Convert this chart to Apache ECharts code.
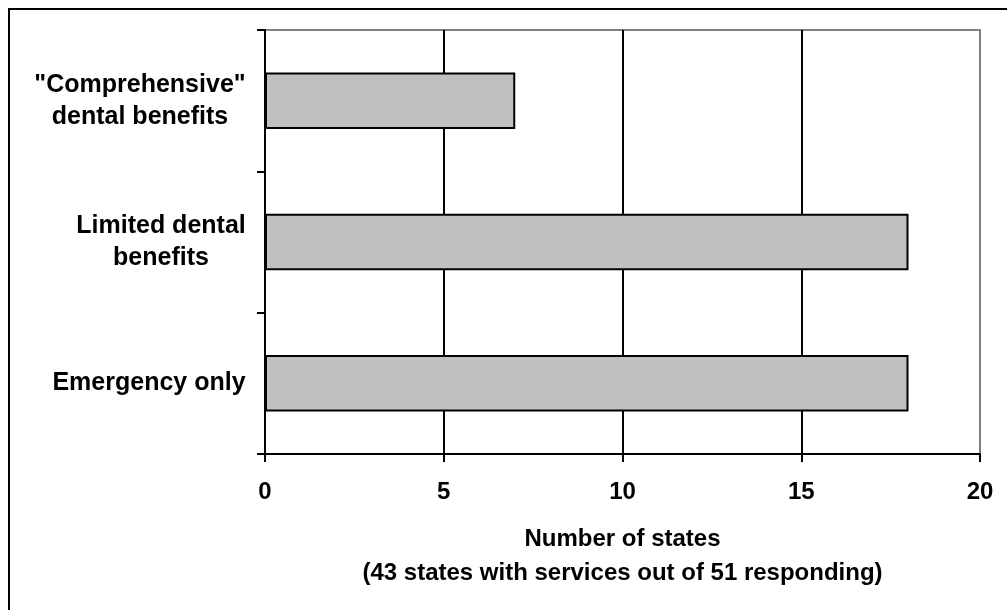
<!DOCTYPE html>
<html><head><meta charset="utf-8">
<script src="https://cdn.jsdelivr.net/npm/echarts@6/dist/echarts.min.js"></script>
<style>html,body{margin:0;padding:0;background:#fff}#c{width:1007px;height:610px}</style>
</head><body><div id="c"></div>
<script>
// Data (bottom to top)
const categories = ['Emergency only', 'Limited dental\nbenefits', '"Comprehensive"\ndental benefits'];
const values = [18, 18, 7];
const xTicks = [0, 5, 10, 15, 20];
const xTitle = 'Number of states\n(43 states with services out of 51 responding)';

const FONT = 'Liberation Sans, Arial, sans-serif';
const FSY = 25;
const FSX = 24;
const ctx = document.createElement('canvas').getContext('2d');
ctx.font = 'bold ' + FSY + 'px ' + FONT;
const rich = {};
categories.forEach((c, i) => {
  const w = Math.max(...c.split('\n').map(l => ctx.measureText(l).width));
  rich['c' + i] = {width: Math.ceil(w), align: 'center', fontSize: FSY, fontWeight: 'bold', fontFamily: FONT, color: '#000', lineHeight: 32};
});

const chart = echarts.init(document.getElementById('c'), null, {renderer: 'canvas'});
chart.setOption({
  animation: false,
  backgroundColor: '#fff',
  grid: {left: 265, right: 27, top: 30, bottom: 156, show: true, borderColor: '#808080', borderWidth: 2, backgroundColor: 'transparent'},
  xAxis: {
    type: 'value', min: xTicks[0], max: xTicks[xTicks.length - 1], interval: 5,
    axisLine: {show: true, lineStyle: {color: '#000', width: 2}},
    axisTick: {show: true, length: 8, lineStyle: {color: '#000', width: 2}},
    axisLabel: {margin: 26, fontSize: FSX, fontWeight: 'bold', fontFamily: FONT, color: '#000'},
    splitLine: {show: true, lineStyle: {color: ['#000', '#000', '#000', '#000', '#808080'], width: 2}},
    name: xTitle, nameLocation: 'middle', nameGap: 68,
    nameTextStyle: {fontSize: FSX, fontWeight: 'bold', fontFamily: FONT, color: '#000', lineHeight: 34}
  },
  yAxis: {
    type: 'category', data: categories,
    axisLine: {show: true, lineStyle: {color: '#000', width: 2}},
    axisTick: {show: true, length: 8, lineStyle: {color: '#000', width: 2}},
    axisLabel: {
      margin: 19, color: '#000', fontSize: FSY, fontWeight: 'bold', fontFamily: FONT,
      formatter: (v, i) => v.split('\n').map(l => '{c' + i + '|' + l + '}').join('\n'),
      rich: rich
    },
    splitLine: {show: false}
  },
  series: [{
    type: 'bar', data: values, barWidth: '40%',
    itemStyle: {color: '#C0C0C0', borderColor: '#000', borderWidth: 2}
  }],
  graphic: [{
    type: 'rect', shape: {x: 9, y: 9, width: 1100, height: 700},
    style: {fill: 'none', stroke: '#000', lineWidth: 2}, silent: true, z: 100
  }]
});
</script></body></html>
